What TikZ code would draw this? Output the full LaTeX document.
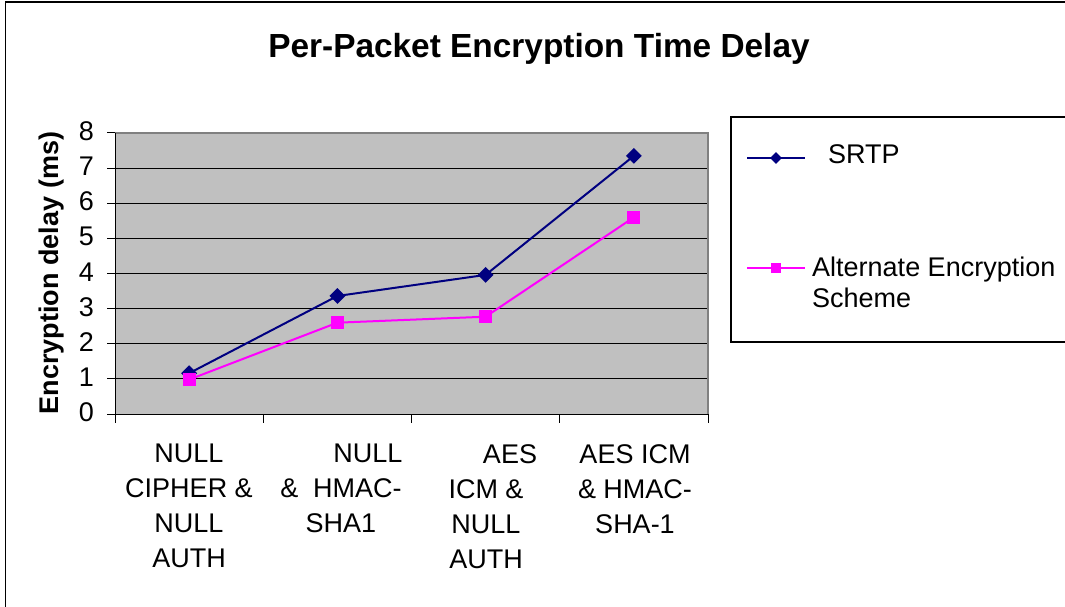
\documentclass[tikz,border=0pt]{standalone}
\usepackage{fontspec}
\setmainfont{Liberation Sans}
\usetikzlibrary{shapes.geometric}
\definecolor{plotfill}{HTML}{C0C0C0}
\definecolor{plotedge}{HTML}{808080}
\definecolor{srtpcol}{HTML}{000080}
\definecolor{altcol}{HTML}{FF00FF}
\begin{document}
\begin{tikzpicture}[x=1pt,y=-1pt,
  txt/.style={inner sep=0pt,font=\fontsize{27}{35}\selectfont},
  ytick/.style={txt,anchor=base east},
  xlab/.style={txt,anchor=north,align=center},
  gridline/.style={black,line width=1pt},
  srtpline/.style={srtpcol,line width=2pt},
  altline/.style={altcol,line width=2pt},
  srtpmark/.style={diamond,fill=srtpcol,inner sep=0pt,minimum size=16pt},
  altmark/.style={rectangle,fill=altcol,inner sep=0pt,minimum size=13pt},
  srtpkey/.style={diamond,fill=srtpcol,inner sep=0pt,minimum size=12pt},
  altkey/.style={rectangle,fill=altcol,inner sep=0pt,minimum size=10pt}]
\useasboundingbox (0,0) rectangle (1065,607);
\clip (0,0) rectangle (1065,607);

% chart frame
\fill[white] (0,0) rectangle (1065,607);
\draw[black,line width=1.3pt] (5.5,620) -- (5.5,2) -- (1080,2);

% title
\node[inner sep=0pt,anchor=base,font=\fontsize{33.4}{40}\selectfont\bfseries] (title) at (539,58) {Per-Packet Encryption Time Delay};

% plot area
\fill[plotfill] (115,133) rectangle (708,414);
\foreach \v in {1,...,7}
  \draw[gridline] (115,{414-\v*35.125}) -- (708,{414-\v*35.125});
\draw[plotedge,line width=2pt] (115,133) -- (708,133) -- (708,414);
% axes and ticks
\draw[black,line width=1pt] (115,133) -- (115,423);
\draw[black,line width=1pt] (107,414) -- (708,414);
\foreach \v in {1,...,8}
  \draw[black,line width=1pt] (107,{414-\v*35.125}) -- (115,{414-\v*35.125});
\foreach \k in {1,...,4}
  \draw[black,line width=1pt] ({115+\k*148.25},414) -- ({115+\k*148.25},423);

% y tick labels
\foreach \v in {0,...,8}
  \node[ytick] (yt\v) at (94,{414-\v*35.125+7.5}) {\v};

% axis title
\node[inner sep=0pt,anchor=base,rotate=90,font=\fontsize{27}{32}\selectfont\bfseries] (ytitle) at (58,273) {Encryption delay (ms)};

% category labels
\node[xlab] (c1) at (189,444) {NULL\\CIPHER \&\\NULL\\AUTH};
\node[xlab] (c2) at (341,444) {\hspace*{54pt}NULL\\\&\ \ HMAC-\\SHA1};
\node[xlab] (c3) at (486,444) {\hspace*{48pt}AES\\ICM \&\hspace*{16pt}\\NULL\\AUTH};
\node[xlab] (c4) at (635,444) {AES ICM\\\& HMAC-\\SHA-1};

% data points
\coordinate (s1) at (189.1,{414-1.16*35.125});
\coordinate (s2) at (337.4,{414-3.36*35.125});
\coordinate (s3) at (485.6,{414-3.96*35.125});
\coordinate (s4) at (633.9,{414-7.35*35.125});
\coordinate (a1) at (189.1,{414-0.98*35.125});
\coordinate (a2) at (337.4,{414-2.60*35.125});
\coordinate (a3) at (485.6,{414-2.77*35.125});
\coordinate (a4) at (633.9,{414-5.60*35.125});

\draw[srtpline] (s1) -- (s2) -- (s3) -- (s4);
\draw[altline] (a1) -- (a2) -- (a3) -- (a4);
\foreach \i in {1,...,4} {
  \node[srtpmark] (sm\i) at (s\i) {};
  \node[altmark] (am\i) at (a\i) {};
}

% legend
\draw[fill=white,draw=black,line width=1.2pt] (731,117) rectangle (1090,342);
\coordinate (ls0) at (747,158);
\coordinate (ls1) at (805,158);
\coordinate (la0) at (747,268);
\coordinate (la1) at (805,268);
\draw[srtpline] (ls0) -- (ls1);
\draw[altline] (la0) -- (la1);
\node[srtpkey] (lsk) at (776,158) {};
\node[altkey] (lak) at (776,268) {};
\node[txt,anchor=base west] (lst) at (828,164) {SRTP};
\node[inner sep=0pt,anchor=north west,align=left,font=\fontsize{27}{31}\selectfont] (lat) at (812,257) {Alternate Encryption\\Scheme};
\end{tikzpicture}
\end{document}
